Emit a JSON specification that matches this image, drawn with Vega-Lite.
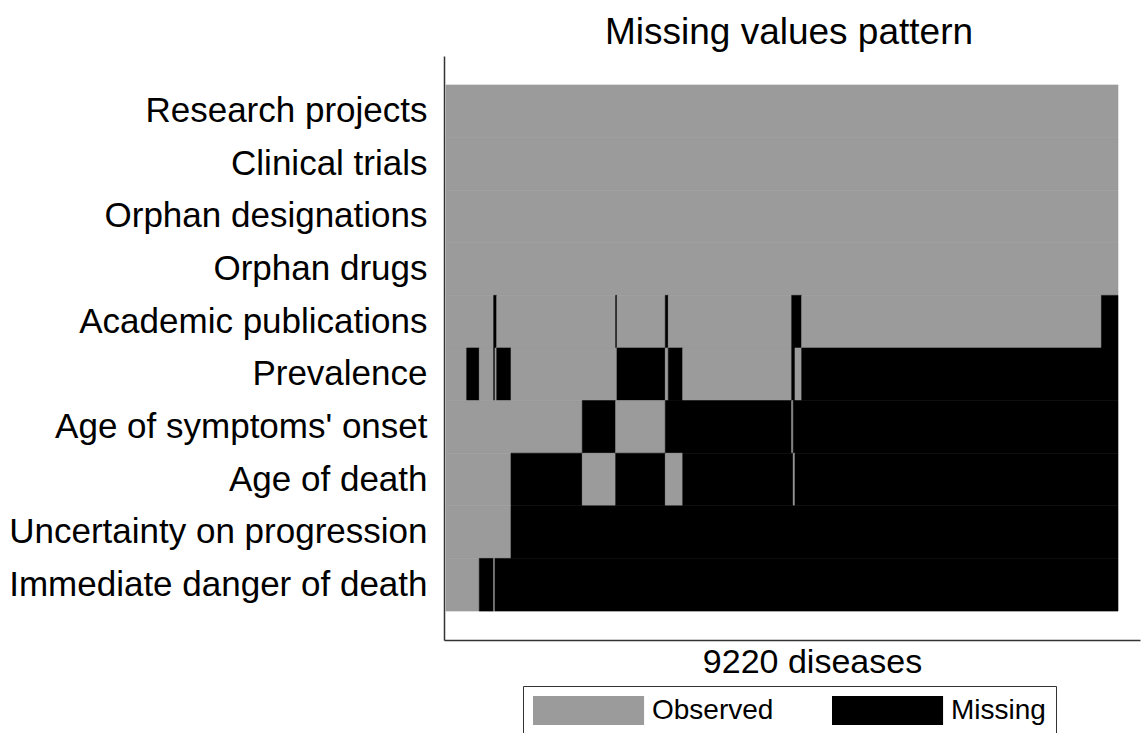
{
  "$schema": "https://vega.github.io/schema/vega-lite/v6.json",
  "autosize": {"type": "none"},
  "width": 696,
  "height": 584,
  "padding": {"left": 444, "top": 56, "right": 2, "bottom": 93},
  "background": "white",
  "config": {
    "view": {"stroke": null},
    "font": "Liberation Sans"
  },
  "title": {
    "text": "Missing values pattern",
    "fontSize": 37,
    "fontWeight": "normal",
    "font": "Liberation Sans",
    "color": "black",
    "anchor": "middle",
    "frame": "group",
    "baseline": "alphabetic",
    "offset": 13,
    "dx": -3,
    "dy": 38
  },
  "data": {
    "values": [
      {"variable": "Research projects", "start": 0, "end": 9220, "status": "Observed"},
      {"variable": "Clinical trials", "start": 0, "end": 9220, "status": "Observed"},
      {"variable": "Orphan designations", "start": 0, "end": 9220, "status": "Observed"},
      {"variable": "Orphan drugs", "start": 0, "end": 9220, "status": "Observed"},

      {"variable": "Academic publications", "start": 0, "end": 654, "status": "Observed"},
      {"variable": "Academic publications", "start": 654, "end": 696, "status": "Missing"},
      {"variable": "Academic publications", "start": 696, "end": 2328, "status": "Observed"},
      {"variable": "Academic publications", "start": 2328, "end": 2346, "status": "Missing"},
      {"variable": "Academic publications", "start": 2346, "end": 3009, "status": "Observed"},
      {"variable": "Academic publications", "start": 3009, "end": 3050, "status": "Missing"},
      {"variable": "Academic publications", "start": 3050, "end": 4743, "status": "Observed"},
      {"variable": "Academic publications", "start": 4743, "end": 4880, "status": "Missing"},
      {"variable": "Academic publications", "start": 4880, "end": 8993, "status": "Observed"},
      {"variable": "Academic publications", "start": 8993, "end": 9220, "status": "Missing"},

      {"variable": "Prevalence", "start": 0, "end": 284, "status": "Observed"},
      {"variable": "Prevalence", "start": 284, "end": 457, "status": "Missing"},
      {"variable": "Prevalence", "start": 457, "end": 654, "status": "Observed"},
      {"variable": "Prevalence", "start": 654, "end": 672, "status": "Missing"},
      {"variable": "Prevalence", "start": 672, "end": 696, "status": "Observed"},
      {"variable": "Prevalence", "start": 696, "end": 892, "status": "Missing"},
      {"variable": "Prevalence", "start": 892, "end": 2346, "status": "Observed"},
      {"variable": "Prevalence", "start": 2346, "end": 3009, "status": "Missing"},
      {"variable": "Prevalence", "start": 3009, "end": 3050, "status": "Observed"},
      {"variable": "Prevalence", "start": 3050, "end": 3248, "status": "Missing"},
      {"variable": "Prevalence", "start": 3248, "end": 4743, "status": "Observed"},
      {"variable": "Prevalence", "start": 4743, "end": 4788, "status": "Missing"},
      {"variable": "Prevalence", "start": 4788, "end": 4880, "status": "Observed"},
      {"variable": "Prevalence", "start": 4880, "end": 9220, "status": "Missing"},

      {"variable": "Age of symptoms' onset", "start": 0, "end": 1870, "status": "Observed"},
      {"variable": "Age of symptoms' onset", "start": 1870, "end": 2328, "status": "Missing"},
      {"variable": "Age of symptoms' onset", "start": 2328, "end": 3009, "status": "Observed"},
      {"variable": "Age of symptoms' onset", "start": 3009, "end": 4743, "status": "Missing"},
      {"variable": "Age of symptoms' onset", "start": 4743, "end": 4764, "status": "Observed"},
      {"variable": "Age of symptoms' onset", "start": 4764, "end": 9220, "status": "Missing"},

      {"variable": "Age of death", "start": 0, "end": 892, "status": "Observed"},
      {"variable": "Age of death", "start": 892, "end": 1870, "status": "Missing"},
      {"variable": "Age of death", "start": 1870, "end": 2328, "status": "Observed"},
      {"variable": "Age of death", "start": 2328, "end": 3009, "status": "Missing"},
      {"variable": "Age of death", "start": 3009, "end": 3248, "status": "Observed"},
      {"variable": "Age of death", "start": 3248, "end": 4764, "status": "Missing"},
      {"variable": "Age of death", "start": 4764, "end": 4788, "status": "Observed"},
      {"variable": "Age of death", "start": 4788, "end": 9220, "status": "Missing"},

      {"variable": "Uncertainty on progression", "start": 0, "end": 892, "status": "Observed"},
      {"variable": "Uncertainty on progression", "start": 892, "end": 9220, "status": "Missing"},

      {"variable": "Immediate danger of death", "start": 0, "end": 457, "status": "Observed"},
      {"variable": "Immediate danger of death", "start": 457, "end": 654, "status": "Missing"},
      {"variable": "Immediate danger of death", "start": 654, "end": 672, "status": "Observed"},
      {"variable": "Immediate danger of death", "start": 672, "end": 9220, "status": "Missing"}
    ]
  },
  "mark": {"type": "rect", "strokeWidth": 0.6},
  "encoding": {
    "x": {
      "field": "start",
      "type": "quantitative",
      "scale": {"domain": [-27.44, 9521.8], "nice": false, "zero": false},
      "axis": {
        "title": "9220 diseases",
        "titleFontSize": 34,
        "titleFontWeight": "normal",
        "titleFont": "Liberation Sans",
        "titleColor": "black",
        "titleX": 368,
        "titleY": 32,
        "titleAlign": "center",
        "titleBaseline": "alphabetic",
        "labels": false,
        "ticks": false,
        "grid": false,
        "domain": true,
        "domainColor": "#333333",
        "domainWidth": 1.5
      }
    },
    "x2": {"field": "end"},
    "y": {
      "field": "variable",
      "type": "nominal",
      "sort": ["Research projects", "Clinical trials", "Orphan designations", "Orphan drugs", "Academic publications", "Prevalence", "Age of symptoms' onset", "Age of death", "Uncertainty on progression", "Immediate danger of death"],
      "scale": {"paddingInner": 0, "paddingOuter": 0.55},
      "axis": {
        "title": null,
        "ticks": false,
        "tickSize": 0,
        "labelPadding": 17,
        "labelFontSize": 35,
        "labelFont": "Liberation Sans",
        "labelColor": "black",
        "labelLimit": 600,
        "domain": true,
        "domainColor": "#333333",
        "domainWidth": 1.5,
        "grid": false
      }
    },
    "color": {
      "field": "status",
      "type": "nominal",
      "scale": {"domain": ["Observed", "Missing"], "range": ["#9b9b9b", "#000000"]},
      "legend": {
        "title": null,
        "orient": "none",
        "legendX": 79,
        "legendY": 630,
        "direction": "horizontal",
        "symbolType": "M-1,-1H6.66V1H-1Z",
        "symbolSize": 841,
        "symbolStrokeWidth": 0,
        "symbolOpacity": 1,
        "labelFontSize": 28,
        "labelFont": "Liberation Sans",
        "labelColor": "black",
        "labelOffset": 90,
        "columnPadding": 58,
        "padding": 10,
        "strokeColor": "#333333"
      }
    },
    "stroke": {
      "field": "status",
      "type": "nominal",
      "scale": {"domain": ["Observed", "Missing"], "range": ["#9b9b9b", "#000000"]},
      "legend": null
    }
  }
}
